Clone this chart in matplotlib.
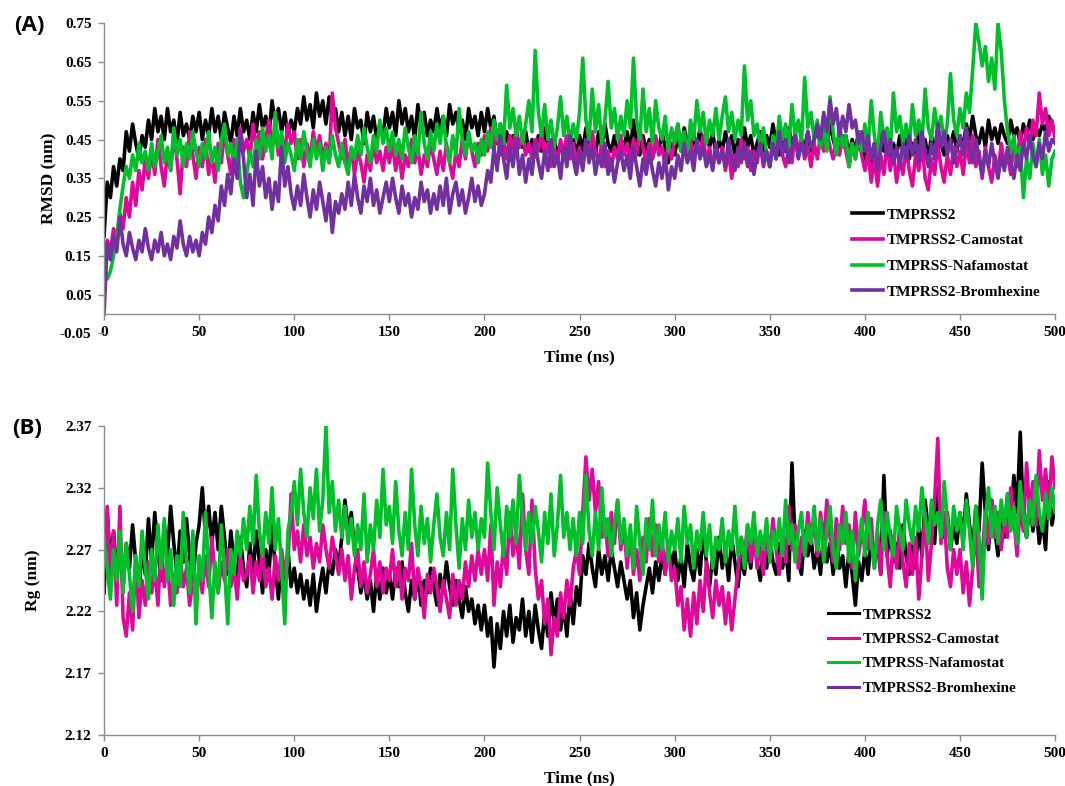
import numpy as np
import matplotlib
matplotlib.use("Agg")
import matplotlib.pyplot as plt
from matplotlib.lines import Line2D

plt.rcParams['font.family'] = ['Liberation Serif', 'DejaVu Serif']
plt.rcParams['font.weight'] = 'bold'

# simulation time: 301 frames over 500 ns
time_ns = np.linspace(0, 500, 301)

labels = ["TMPRSS2", "TMPRSS2-Camostat", "TMPRSS-Nafamostat", "TMPRSS2-Bromhexine"]
colors = ["#000000", "#E0089A", "#00C02A", "#7030A0"]

# RMSD (nm), 15 frames (25 ns) per row
rmsd_apo = [
    0.20, 0.34, 0.30, 0.38, 0.33, 0.40, 0.37, 0.47, 0.42, 0.49, 0.44, 0.40, 0.46, 0.43, 0.50,
    0.45, 0.53, 0.47, 0.51, 0.45, 0.53, 0.47, 0.50, 0.44, 0.52, 0.46, 0.49, 0.45, 0.51, 0.47,
    0.52, 0.45, 0.50, 0.46, 0.53, 0.47, 0.51, 0.45, 0.52, 0.48, 0.44, 0.51, 0.46, 0.53, 0.47,
    0.50, 0.45, 0.52, 0.47, 0.54, 0.48, 0.51, 0.46, 0.55, 0.49, 0.53, 0.47, 0.52, 0.46, 0.50,
    0.47, 0.53, 0.49, 0.56, 0.50, 0.54, 0.48, 0.57, 0.51, 0.55, 0.49, 0.56, 0.50, 0.53, 0.47,
    0.52, 0.46, 0.51, 0.45, 0.53, 0.48, 0.50, 0.44, 0.52, 0.47, 0.51, 0.45, 0.49, 0.46, 0.53,
    0.48, 0.52, 0.46, 0.55, 0.49, 0.53, 0.47, 0.51, 0.45, 0.54, 0.48, 0.52, 0.46, 0.50, 0.47,
    0.53, 0.48, 0.51, 0.46, 0.54, 0.49, 0.52, 0.47, 0.50, 0.45, 0.53, 0.48, 0.51, 0.46, 0.52,
    0.47, 0.53, 0.48, 0.51, 0.44, 0.49, 0.43, 0.47, 0.42, 0.46, 0.41, 0.45, 0.43, 0.47, 0.42,
    0.45, 0.41, 0.46, 0.42, 0.48, 0.43, 0.40, 0.45, 0.41, 0.44, 0.40, 0.46, 0.42, 0.45, 0.41,
    0.46, 0.42, 0.48, 0.43, 0.45, 0.41, 0.47, 0.43, 0.49, 0.44, 0.42, 0.46, 0.41, 0.45, 0.43,
    0.47, 0.42, 0.50, 0.44, 0.41, 0.46, 0.42, 0.45, 0.40, 0.44, 0.42, 0.47, 0.43, 0.39, 0.44,
    0.41, 0.46, 0.42, 0.48, 0.44, 0.41, 0.46, 0.43, 0.48, 0.42, 0.46, 0.43, 0.47, 0.41, 0.45,
    0.42, 0.47, 0.43, 0.46, 0.41, 0.45, 0.42, 0.48, 0.43, 0.46, 0.41, 0.44, 0.47, 0.42, 0.46,
    0.43, 0.49, 0.44, 0.41, 0.46, 0.42, 0.48, 0.44, 0.46, 0.41, 0.45, 0.43, 0.47, 0.42, 0.45,
    0.48, 0.43, 0.47, 0.44, 0.49, 0.45, 0.42, 0.47, 0.43, 0.46, 0.41, 0.45, 0.42, 0.47, 0.44,
    0.40, 0.45, 0.38, 0.44, 0.41, 0.47, 0.42, 0.45, 0.39, 0.44, 0.41, 0.46, 0.42, 0.45, 0.40,
    0.44, 0.41, 0.47, 0.43, 0.45, 0.40, 0.46, 0.42, 0.48, 0.44, 0.41, 0.46, 0.43, 0.47, 0.42,
    0.46, 0.43, 0.49, 0.45, 0.51, 0.46, 0.44, 0.48, 0.43, 0.50, 0.45, 0.48, 0.44, 0.49, 0.46,
    0.44, 0.50, 0.46, 0.48, 0.44, 0.49, 0.46, 0.50, 0.45, 0.48, 0.46, 0.49, 0.47, 0.51, 0.49,
    0.47]
rmsd_camostat = [
    0.15, 0.19, 0.16, 0.22, 0.19, 0.26, 0.22, 0.30, 0.25, 0.34, 0.28, 0.37, 0.32, 0.40, 0.35,
    0.42, 0.36, 0.45, 0.38, 0.33, 0.42, 0.37, 0.46, 0.40, 0.31, 0.43, 0.38, 0.47, 0.41, 0.35,
    0.43, 0.38, 0.45, 0.36, 0.41, 0.34, 0.44, 0.39, 0.47, 0.41, 0.36, 0.45, 0.40, 0.48, 0.42,
    0.45, 0.40, 0.49, 0.43, 0.47, 0.40, 0.45, 0.50, 0.43, 0.48, 0.41, 0.46, 0.42, 0.49, 0.44,
    0.47, 0.40, 0.45, 0.38, 0.44, 0.40, 0.47, 0.42, 0.46, 0.40, 0.44, 0.39, 0.57, 0.48, 0.44,
    0.40, 0.45, 0.38, 0.43, 0.36, 0.42, 0.39, 0.34, 0.41, 0.37, 0.44, 0.39, 0.42, 0.37, 0.43,
    0.39, 0.44, 0.37, 0.42, 0.35, 0.41, 0.38, 0.45, 0.39, 0.43, 0.36, 0.41, 0.38, 0.44, 0.40,
    0.36, 0.42, 0.37, 0.44, 0.39, 0.35, 0.42, 0.38, 0.45, 0.40, 0.47, 0.42, 0.38, 0.44, 0.41,
    0.46, 0.42, 0.48, 0.43, 0.47, 0.41, 0.45, 0.40, 0.46, 0.42, 0.48, 0.43, 0.46, 0.41, 0.44,
    0.40, 0.45, 0.42, 0.47, 0.41, 0.44, 0.38, 0.43, 0.39, 0.45, 0.41, 0.46, 0.40, 0.44, 0.39,
    0.43, 0.38, 0.45, 0.41, 0.47, 0.42, 0.39, 0.44, 0.38, 0.42, 0.37, 0.43, 0.40, 0.46, 0.41,
    0.44, 0.39, 0.45, 0.41, 0.48, 0.43, 0.39, 0.44, 0.40, 0.46, 0.41, 0.43, 0.38, 0.44, 0.40,
    0.45, 0.49, 0.43, 0.47, 0.41, 0.45, 0.40, 0.44, 0.41, 0.46, 0.39, 0.43, 0.38, 0.42, 0.39,
    0.43, 0.37, 0.42, 0.35, 0.41, 0.38, 0.45, 0.40, 0.43, 0.37, 0.42, 0.39, 0.44, 0.38, 0.42,
    0.38, 0.44, 0.40, 0.46, 0.41, 0.38, 0.43, 0.39, 0.47, 0.42, 0.45, 0.40, 0.43, 0.38, 0.44,
    0.40, 0.46, 0.42, 0.47, 0.43, 0.40, 0.45, 0.41, 0.46, 0.42, 0.38, 0.44, 0.40, 0.45, 0.41,
    0.37, 0.42, 0.34, 0.40, 0.33, 0.41, 0.36, 0.44, 0.37, 0.42, 0.34, 0.40, 0.36, 0.43, 0.37,
    0.33, 0.41, 0.37, 0.44, 0.35, 0.32, 0.40, 0.36, 0.44, 0.38, 0.34, 0.41, 0.36, 0.43, 0.38,
    0.42, 0.36, 0.44, 0.39, 0.46, 0.38, 0.42, 0.35, 0.43, 0.38, 0.34, 0.41, 0.36, 0.44, 0.39,
    0.41, 0.36, 0.44, 0.39, 0.47, 0.42, 0.48, 0.43, 0.50, 0.46, 0.57, 0.49, 0.53, 0.46, 0.50,
    0.45]
rmsd_nafamostat = [
    0.12, 0.09, 0.11, 0.15, 0.20, 0.27, 0.33, 0.38, 0.35, 0.41, 0.37, 0.44, 0.39, 0.42, 0.37,
    0.44, 0.38, 0.42, 0.46, 0.39, 0.43, 0.37, 0.48, 0.41, 0.45, 0.38, 0.44, 0.40, 0.47, 0.42,
    0.38, 0.44, 0.40, 0.47, 0.39, 0.43, 0.37, 0.45, 0.49, 0.41, 0.44, 0.38, 0.45, 0.34, 0.30,
    0.36, 0.42, 0.38, 0.45, 0.40, 0.48, 0.42, 0.46, 0.40, 0.52, 0.43, 0.47, 0.39, 0.44, 0.41,
    0.37, 0.45, 0.40, 0.47, 0.42, 0.38, 0.45, 0.40, 0.44, 0.37, 0.43, 0.39, 0.46, 0.41, 0.38,
    0.44, 0.39, 0.36, 0.43, 0.40, 0.46, 0.41, 0.48, 0.43, 0.39, 0.46, 0.42, 0.50, 0.44, 0.48,
    0.42, 0.47, 0.41, 0.45, 0.40, 0.48, 0.43, 0.39, 0.46, 0.41, 0.52, 0.44, 0.40, 0.47, 0.42,
    0.49, 0.44, 0.51, 0.43, 0.39, 0.46, 0.41, 0.53, 0.45, 0.41, 0.47, 0.42, 0.44, 0.39, 0.45,
    0.41, 0.47, 0.43, 0.50, 0.45, 0.49, 0.44, 0.59, 0.48, 0.53, 0.46, 0.51, 0.44, 0.49, 0.55,
    0.47, 0.68, 0.52, 0.46, 0.54, 0.45, 0.50, 0.43, 0.48, 0.56, 0.46, 0.51, 0.44, 0.49, 0.45,
    0.52, 0.66, 0.50, 0.45, 0.58, 0.47, 0.54, 0.44, 0.50, 0.60, 0.48, 0.53, 0.45, 0.51, 0.46,
    0.55, 0.48, 0.66, 0.50, 0.45, 0.58, 0.47, 0.53, 0.44, 0.55, 0.48, 0.45, 0.51, 0.42, 0.48,
    0.44, 0.49, 0.42, 0.47, 0.40, 0.50, 0.45, 0.55, 0.47, 0.52, 0.44, 0.50, 0.46, 0.53, 0.45,
    0.51, 0.56, 0.47, 0.52, 0.45, 0.50, 0.46, 0.64, 0.50, 0.55, 0.46, 0.49, 0.43, 0.48, 0.41,
    0.38, 0.46, 0.42, 0.51, 0.45, 0.49, 0.43, 0.54, 0.46, 0.50, 0.44, 0.61, 0.48, 0.52, 0.45,
    0.50, 0.43, 0.48, 0.42, 0.56, 0.47, 0.41, 0.49, 0.43, 0.46, 0.38, 0.44, 0.40, 0.47, 0.42,
    0.49, 0.43, 0.55, 0.46, 0.41, 0.52, 0.45, 0.48, 0.42, 0.57, 0.47, 0.51, 0.44, 0.49, 0.43,
    0.54, 0.46, 0.50, 0.44, 0.58, 0.48, 0.45, 0.53, 0.47, 0.51, 0.44, 0.49, 0.62, 0.50, 0.46,
    0.53, 0.48, 0.57, 0.52, 0.63, 0.75, 0.70, 0.64, 0.69, 0.60, 0.66, 0.58, 0.75, 0.68, 0.55,
    0.47, 0.42, 0.46, 0.38, 0.43, 0.30, 0.40, 0.35, 0.44, 0.38, 0.45, 0.36, 0.41, 0.33, 0.40,
    0.42]
rmsd_bromhexine = [
    0.00, 0.18, 0.14, 0.20, 0.16, 0.25, 0.18, 0.15, 0.21, 0.17, 0.14, 0.19, 0.16, 0.22, 0.17,
    0.14, 0.19, 0.16, 0.21, 0.15, 0.18, 0.14, 0.20, 0.17, 0.24, 0.18, 0.15, 0.20, 0.16, 0.19,
    0.15, 0.21, 0.18, 0.25, 0.21, 0.28, 0.24, 0.33, 0.28, 0.36, 0.31, 0.40, 0.35, 0.47, 0.40,
    0.30, 0.36, 0.28, 0.42, 0.33, 0.38, 0.30, 0.35, 0.27, 0.34, 0.29, 0.43, 0.33, 0.38, 0.31,
    0.27, 0.33, 0.28, 0.36, 0.30, 0.25, 0.32, 0.27, 0.34, 0.29, 0.24, 0.31, 0.21, 0.29, 0.26,
    0.31, 0.27, 0.34, 0.28, 0.36, 0.30, 0.26, 0.33, 0.29, 0.35, 0.28, 0.32, 0.26, 0.30, 0.34,
    0.29, 0.35, 0.30, 0.26, 0.33, 0.28, 0.31, 0.25, 0.30, 0.27, 0.34, 0.29, 0.32, 0.26, 0.31,
    0.27, 0.33, 0.28, 0.35, 0.26, 0.31, 0.34, 0.28, 0.32, 0.26, 0.30, 0.35, 0.29, 0.33, 0.28,
    0.31, 0.37, 0.34, 0.43, 0.37, 0.46, 0.40, 0.35, 0.43, 0.38, 0.45, 0.36, 0.41, 0.34, 0.40,
    0.36, 0.44, 0.39, 0.35, 0.42, 0.37, 0.45, 0.38, 0.41, 0.35, 0.43, 0.38, 0.46, 0.40, 0.36,
    0.42, 0.37, 0.45, 0.39, 0.43, 0.36, 0.41, 0.38, 0.44, 0.36, 0.40, 0.34, 0.39, 0.42, 0.37,
    0.41, 0.35, 0.43, 0.38, 0.33, 0.40, 0.36, 0.42, 0.37, 0.33, 0.39, 0.35, 0.41, 0.32, 0.38,
    0.35, 0.41, 0.37, 0.44, 0.39, 0.42, 0.37, 0.45, 0.40, 0.43, 0.38, 0.41, 0.37, 0.44, 0.39,
    0.42, 0.38, 0.45, 0.40, 0.37, 0.43, 0.39, 0.44, 0.38, 0.42, 0.36, 0.41, 0.44, 0.39, 0.42,
    0.38, 0.44, 0.40, 0.47, 0.41, 0.45, 0.39, 0.43, 0.46, 0.40, 0.44, 0.41, 0.47, 0.43, 0.45,
    0.49, 0.45, 0.52, 0.47, 0.55, 0.49, 0.53, 0.46, 0.51, 0.47, 0.54, 0.48, 0.50, 0.44, 0.47,
    0.42, 0.46, 0.40, 0.44, 0.37, 0.43, 0.47, 0.41, 0.45, 0.39, 0.43, 0.38, 0.44, 0.40, 0.46,
    0.41, 0.45, 0.39, 0.47, 0.42, 0.38, 0.44, 0.40, 0.49, 0.43, 0.47, 0.41, 0.45, 0.39, 0.43,
    0.46, 0.41, 0.48, 0.43, 0.39, 0.45, 0.40, 0.36, 0.42, 0.38, 0.44, 0.39, 0.35, 0.41, 0.37,
    0.43, 0.39, 0.35, 0.41, 0.37, 0.44, 0.40, 0.46, 0.41, 0.38, 0.44, 0.40, 0.47, 0.42, 0.45,
    0.44]

# radius of gyration (nm)
rg_apo = [
    2.235, 2.300, 2.260, 2.285, 2.250, 2.280, 2.240, 2.275, 2.255, 2.290, 2.260, 2.230, 2.275, 2.250, 2.295,
    2.260, 2.300, 2.270, 2.245, 2.290, 2.265, 2.305, 2.275, 2.250, 2.285, 2.260, 2.295, 2.265, 2.240, 2.275,
    2.290, 2.320, 2.280, 2.305, 2.275, 2.300, 2.270, 2.305, 2.280, 2.250, 2.285, 2.260, 2.245, 2.280, 2.255,
    2.240, 2.275, 2.250, 2.285, 2.260, 2.235, 2.270, 2.250, 2.290, 2.255, 2.230, 2.265, 2.245, 2.270, 2.240,
    2.255, 2.235, 2.250, 2.230, 2.245, 2.225, 2.250, 2.220, 2.240, 2.255, 2.235, 2.260, 2.250, 2.270, 2.255,
    2.280, 2.310, 2.285, 2.300, 2.270, 2.255, 2.235, 2.250, 2.230, 2.245, 2.220, 2.250, 2.230, 2.255, 2.235,
    2.250, 2.230, 2.255, 2.240, 2.260, 2.235, 2.220, 2.245, 2.230, 2.250, 2.225, 2.245, 2.235, 2.255, 2.240,
    2.225, 2.250, 2.235, 2.260, 2.240, 2.225, 2.245, 2.230, 2.215, 2.240, 2.220, 2.230, 2.210, 2.225, 2.205,
    2.225, 2.200, 2.215, 2.175, 2.210, 2.190, 2.220, 2.200, 2.225, 2.195, 2.215, 2.205, 2.230, 2.200, 2.220,
    2.195, 2.225, 2.205, 2.190, 2.220, 2.200, 2.235, 2.210, 2.230, 2.205, 2.225, 2.200, 2.235, 2.210, 2.240,
    2.225, 2.265, 2.250, 2.275, 2.255, 2.240, 2.270, 2.250, 2.265, 2.245, 2.270, 2.255, 2.240, 2.260, 2.245,
    2.230, 2.245, 2.215, 2.235, 2.205, 2.225, 2.240, 2.255, 2.235, 2.260, 2.245, 2.265, 2.250, 2.275, 2.255,
    2.270, 2.245, 2.265, 2.240, 2.275, 2.255, 2.245, 2.270, 2.250, 2.285, 2.260, 2.240, 2.265, 2.250, 2.280,
    2.255, 2.270, 2.245, 2.280, 2.260, 2.240, 2.265, 2.250, 2.275, 2.255, 2.285, 2.260, 2.245, 2.270, 2.255,
    2.280, 2.260, 2.250, 2.275, 2.255, 2.270, 2.245, 2.340, 2.275, 2.260, 2.250, 2.285, 2.265, 2.280, 2.255,
    2.270, 2.250, 2.285, 2.260, 2.275, 2.250, 2.280, 2.255, 2.265, 2.240, 2.270, 2.250, 2.225, 2.260, 2.245,
    2.270, 2.250, 2.280, 2.260, 2.275, 2.250, 2.330, 2.265, 2.285, 2.260, 2.275, 2.255, 2.290, 2.265, 2.250,
    2.275, 2.255, 2.290, 2.265, 2.310, 2.285, 2.300, 2.275, 2.320, 2.295, 2.280, 2.300, 2.270, 2.290, 2.275,
    2.300, 2.280, 2.315, 2.290, 2.270, 2.305, 2.285, 2.340, 2.300, 2.270, 2.310, 2.285, 2.265, 2.300, 2.280,
    2.315, 2.290, 2.330, 2.300, 2.365, 2.295, 2.280, 2.310, 2.285, 2.305, 2.275, 2.295, 2.270, 2.325, 2.290,
    2.305]
rg_camostat = [
    2.260, 2.305, 2.245, 2.285, 2.225, 2.305, 2.215, 2.200, 2.235, 2.205, 2.265, 2.215, 2.245, 2.225, 2.260,
    2.235, 2.255, 2.225, 2.275, 2.240, 2.260, 2.225, 2.250, 2.235, 2.265, 2.240, 2.255, 2.225, 2.245, 2.230,
    2.255, 2.235, 2.265, 2.240, 2.280, 2.250, 2.235, 2.260, 2.245, 2.270, 2.240, 2.255, 2.230, 2.265, 2.245,
    2.250, 2.265, 2.235, 2.260, 2.245, 2.270, 2.240, 2.255, 2.230, 2.265, 2.245, 2.270, 2.250, 2.260, 2.315,
    2.270, 2.285, 2.260, 2.290, 2.265, 2.280, 2.255, 2.275, 2.260, 2.290, 2.270, 2.255, 2.280, 2.265, 2.250,
    2.270, 2.245, 2.265, 2.230, 2.255, 2.270, 2.240, 2.260, 2.235, 2.250, 2.270, 2.240, 2.260, 2.235, 2.255,
    2.245, 2.270, 2.240, 2.260, 2.230, 2.255, 2.245, 2.275, 2.230, 2.255, 2.240, 2.215, 2.250, 2.235, 2.255,
    2.240, 2.220, 2.245, 2.230, 2.215, 2.250, 2.225, 2.245, 2.230, 2.260, 2.240, 2.265, 2.245, 2.270, 2.250,
    2.270, 2.245, 2.290, 2.225, 2.260, 2.240, 2.275, 2.250, 2.300, 2.265, 2.285, 2.255, 2.315, 2.270, 2.250,
    2.310, 2.255, 2.230, 2.245, 2.210, 2.230, 2.185, 2.215, 2.200, 2.235, 2.215, 2.245, 2.225, 2.255, 2.270,
    2.250, 2.300, 2.345, 2.310, 2.335, 2.300, 2.325, 2.280, 2.295, 2.265, 2.300, 2.275, 2.310, 2.270, 2.290,
    2.255, 2.285, 2.250, 2.270, 2.245, 2.280, 2.260, 2.295, 2.265, 2.290, 2.260, 2.280, 2.250, 2.275, 2.245,
    2.255, 2.225, 2.240, 2.205, 2.230, 2.200, 2.235, 2.210, 2.245, 2.220, 2.260, 2.235, 2.215, 2.245, 2.225,
    2.240, 2.210, 2.235, 2.205, 2.230, 2.255, 2.280, 2.265, 2.290, 2.260, 2.285, 2.255, 2.275, 2.250, 2.285,
    2.265, 2.295, 2.270, 2.250, 2.285, 2.260, 2.305, 2.270, 2.290, 2.255, 2.280, 2.265, 2.300, 2.275, 2.295,
    2.265, 2.300, 2.275, 2.310, 2.280, 2.260, 2.295, 2.270, 2.305, 2.275, 2.290, 2.255, 2.300, 2.265, 2.285,
    2.310, 2.270, 2.295, 2.255, 2.285, 2.250, 2.300, 2.265, 2.240, 2.280, 2.255, 2.290, 2.260, 2.240, 2.275,
    2.250, 2.280, 2.230, 2.265, 2.300, 2.245, 2.275, 2.310, 2.360, 2.275, 2.300, 2.255, 2.240, 2.270, 2.250,
    2.270, 2.235, 2.260, 2.225, 2.255, 2.290, 2.240, 2.265, 2.300, 2.275, 2.310, 2.280, 2.300, 2.270, 2.295,
    2.280, 2.320, 2.295, 2.265, 2.305, 2.285, 2.340, 2.300, 2.325, 2.290, 2.350, 2.310, 2.335, 2.300, 2.345,
    2.320]
rg_nafamostat = [
    2.280, 2.255, 2.230, 2.270, 2.245, 2.285, 2.235, 2.275, 2.250, 2.220, 2.265, 2.240, 2.285, 2.255, 2.230,
    2.270, 2.245, 2.290, 2.255, 2.295, 2.245, 2.270, 2.225, 2.265, 2.240, 2.300, 2.260, 2.235, 2.285, 2.210,
    2.265, 2.245, 2.300, 2.255, 2.215, 2.260, 2.235, 2.290, 2.255, 2.210, 2.270, 2.250, 2.285, 2.265, 2.295,
    2.270, 2.305, 2.275, 2.330, 2.285, 2.265, 2.300, 2.275, 2.320, 2.270, 2.295, 2.255, 2.210, 2.285, 2.300,
    2.325, 2.290, 2.335, 2.300, 2.280, 2.320, 2.295, 2.335, 2.285, 2.310, 2.370, 2.300, 2.325, 2.285, 2.310,
    2.280, 2.305, 2.275, 2.295, 2.265, 2.290, 2.270, 2.315, 2.260, 2.290, 2.270, 2.310, 2.280, 2.335, 2.290,
    2.305, 2.275, 2.325, 2.285, 2.265, 2.300, 2.270, 2.335, 2.290, 2.265, 2.305, 2.275, 2.295, 2.260, 2.290,
    2.315, 2.280, 2.265, 2.300, 2.270, 2.335, 2.290, 2.255, 2.295, 2.270, 2.310, 2.280, 2.300, 2.270, 2.295,
    2.280, 2.340, 2.300, 2.270, 2.320, 2.290, 2.265, 2.305, 2.280, 2.310, 2.275, 2.330, 2.295, 2.270, 2.300,
    2.275, 2.305, 2.285, 2.260, 2.300, 2.275, 2.315, 2.265, 2.290, 2.330, 2.280, 2.300, 2.270, 2.295, 2.265,
    2.300, 2.275, 2.330, 2.285, 2.265, 2.300, 2.270, 2.320, 2.280, 2.295, 2.265, 2.290, 2.310, 2.275, 2.295,
    2.265, 2.290, 2.255, 2.305, 2.275, 2.250, 2.295, 2.270, 2.310, 2.265, 2.290, 2.270, 2.300, 2.260, 2.285,
    2.270, 2.295, 2.260, 2.305, 2.275, 2.290, 2.255, 2.285, 2.270, 2.300, 2.265, 2.290, 2.255, 2.280, 2.270,
    2.295, 2.260, 2.285, 2.270, 2.305, 2.265, 2.280, 2.255, 2.290, 2.275, 2.300, 2.265, 2.285, 2.270, 2.295,
    2.260, 2.285, 2.270, 2.295, 2.265, 2.310, 2.275, 2.290, 2.260, 2.285, 2.300, 2.265, 2.290, 2.275, 2.305,
    2.270, 2.295, 2.260, 2.285, 2.305, 2.270, 2.255, 2.290, 2.275, 2.300, 2.260, 2.285, 2.245, 2.275, 2.295,
    2.265, 2.300, 2.275, 2.255, 2.290, 2.310, 2.270, 2.300, 2.280, 2.265, 2.305, 2.285, 2.270, 2.310, 2.290,
    2.275, 2.305, 2.285, 2.320, 2.295, 2.275, 2.310, 2.290, 2.300, 2.280, 2.325, 2.295, 2.270, 2.305, 2.285,
    2.300, 2.270, 2.310, 2.285, 2.255, 2.305, 2.280, 2.230, 2.295, 2.320, 2.280, 2.305, 2.275, 2.310, 2.290,
    2.315, 2.285, 2.305, 2.275, 2.325, 2.295, 2.280, 2.310, 2.290, 2.330, 2.300, 2.285, 2.315, 2.295, 2.320,
    2.300]

axis_grey = "#8C8C8C"
line_w = 2.6


def style_axis(ax, yticks):
    for side in ("top", "right"):
        ax.spines[side].set_visible(False)
    for side in ("left", "bottom"):
        ax.spines[side].set_color(axis_grey)
        ax.spines[side].set_linewidth(1.0)
    ax.set_xlim(0, 500)
    ax.set_xticks(np.arange(0, 501, 50))
    ax.set_yticks(yticks)
    ax.set_yticklabels(["%.2f" % v for v in yticks])
    ax.tick_params(axis="both", direction="out", length=4, width=1.0,
                   color=axis_grey, labelsize=11, pad=5)
    for lab in ax.get_xticklabels() + ax.get_yticklabels():
        lab.set_fontweight("bold")
    ax.set_xlabel("Time (ns)", fontsize=12.5, fontweight="bold", labelpad=7)


fig = plt.figure(figsize=(10.65, 7.86), dpi=100)
legend_kw = dict(frameon=False, handlelength=2.0, handletextpad=0.25,
                 borderpad=0, borderaxespad=0, bbox_transform=fig.transFigure,
                 loc="upper left", prop={"weight": "bold", "size": 11})

# (A) RMSD
ax1 = fig.add_axes([0.0977, 0.576, 0.893, 0.3944])
for y, c, lab in zip([rmsd_apo, rmsd_camostat, rmsd_nafamostat, rmsd_bromhexine], colors, labels):
    ax1.plot(time_ns, y, color=c, lw=line_w, label=lab)
ax1.set_ylim(-0.05, 0.75)
style_axis(ax1, np.round(np.arange(-0.05, 0.76, 0.1), 2))
ax1.spines["bottom"].set_position(("data", 0))
ax1.spines["left"].set_bounds(0, 0.75)
ax1.set_ylabel("RMSD (nm)", fontsize=12.5, fontweight="bold", labelpad=2)
ax1.legend(bbox_to_anchor=(852 / 1065, 1 - 208 / 786), labelspacing=0.78, **legend_kw)

# (B) radius of gyration
ax2 = fig.add_axes([0.0977, 0.0649, 0.893, 0.3931])
for y, c, lab in zip([rg_apo, rg_camostat, rg_nafamostat], colors, labels):
    ax2.plot(time_ns, y, color=c, lw=line_w, label=lab)
ax2.set_ylim(2.12, 2.37)
style_axis(ax2, np.round(np.arange(2.12, 2.371, 0.05), 2))
ax2.set_ylabel("Rg (nm)", fontsize=12.5, fontweight="bold", labelpad=17)
handles = [Line2D([], [], color=c, lw=2.2) for c in colors]
ax2.legend(handles, labels, bbox_to_anchor=(828 / 1065, 1 - 608 / 786),
           labelspacing=0.7, **legend_kw)

fig.text(0.013, 0.968, "(A)", family="Open Sans", fontweight="bold", fontsize=16, va="center")
fig.text(0.011, 0.455, "(B)", family="Open Sans", fontweight="bold", fontsize=16, va="center")

fig.savefig("out.png", dpi=100)
